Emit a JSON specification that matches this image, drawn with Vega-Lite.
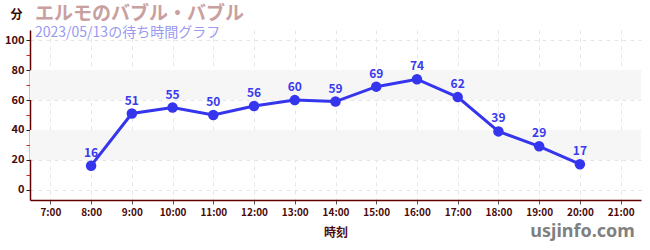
{
  "$schema": "https://vega.github.io/schema/vega-lite/v6.json",
  "width": 611,
  "height": 170,
  "autosize": {"type": "none"},
  "padding": {"left": 30, "top": 30, "right": 9, "bottom": 50},
  "background": "white",
  "config": {
    "font": "Noto Sans CJK JP",
    "view": {"stroke": null},
    "axis": {"labelOverlap": false},
    "axisY": {"labelOverlap": false},
    "axisQuantitative": {"labelOverlap": false, "tickCount": 20}
  },
  "title": {
    "text": "エルモのバブル・バブル",
    "subtitle": " 2023/05/13の待ち時間グラフ",
    "anchor": "start",
    "frame": "group",
    "dx": 5,
    "offset": -32,
    "fontSize": 19,
    "fontWeight": "bold",
    "color": "#c9a0a0",
    "subtitleFontSize": 14,
    "subtitleFontWeight": "normal",
    "subtitleColor": "#9a9af0",
    "subtitlePadding": 2
  },
  "datasets": {
    "waits": [
      {"hour": 8, "wait": 16},
      {"hour": 9, "wait": 51},
      {"hour": 10, "wait": 55},
      {"hour": 11, "wait": 50},
      {"hour": 12, "wait": 56},
      {"hour": 13, "wait": 60},
      {"hour": 14, "wait": 59},
      {"hour": 15, "wait": 69},
      {"hour": 16, "wait": 74},
      {"hour": 17, "wait": 62},
      {"hour": 18, "wait": 39},
      {"hour": 19, "wait": 29},
      {"hour": 20, "wait": 17}
    ],
    "bands": [
      {"lo": 20, "hi": 40},
      {"lo": 60, "hi": 80}
    ],
    "mark": [
      {"hour": 21.35, "wait": -28.5, "label": "usjinfo.com"}
    ]
  },
  "layer": [
    {
      "data": {"name": "bands"},
      "mark": {"type": "rect", "color": "#f6f6f6"},
      "encoding": {
        "y": {
          "field": "lo",
          "type": "quantitative",
          "scale": {"domain": [-7, 107], "nice": false, "zero": false},
          "axis": {
            "values": [0, 10, 20, 30, 40, 50, 60, 70, 80, 90, 100],
            "labelExpr": "datum.value % 20 == 0 ? datum.label : ''",
            "labelOverlap": false,
            "labelColor": "#4a0a0a",
            "labelFontSize": 11,
            "labelFontWeight": "bold",
            "labelPadding": 2,
            "tickColor": {"condition": {"test": "datum.value % 20 == 0", "value": "#222222"}, "value": "#dd2222"},
            "tickSize": 4,
            "domainColor": "#600000",
            "domainWidth": 1.5,
            "grid": true,
            "gridColor": "#e6e6e6",
            "gridDash": [4, 4],
            "gridOpacity": {"condition": {"test": "datum.value % 20 == 0", "value": 1}, "value": 0},
            "title": "分",
            "titleAngle": 0,
            "titleX": -14,
            "titleY": -16,
            "titleAlign": "center",
            "titleBaseline": "middle",
            "titleColor": "#3a0a0a",
            "titleFontSize": 12,
            "titleFontWeight": "bold"
          }
        },
        "y2": {"field": "hi"}
      }
    },
    {
      "data": {"name": "waits"},
      "mark": {"type": "line", "color": "#3535ee", "strokeWidth": 3},
      "encoding": {
        "x": {
          "field": "hour",
          "type": "quantitative",
          "scale": {"domain": [6.5, 21.5], "nice": false, "zero": false},
          "axis": {
            "values": [7, 8, 9, 10, 11, 12, 13, 14, 15, 16, 17, 18, 19, 20, 21],
            "labelExpr": "datum.value + ':00'",
            "labelColor": "#4a0a0a",
            "labelFontSize": 10,
            "labelFontWeight": "bold",
            "labelPadding": 3,
            "labelOverlap": false,
            "tickColor": "#555555",
            "tickSize": 4,
            "domainColor": "#600000",
            "domainWidth": 1.5,
            "grid": true,
            "gridColor": "#e6e6e6",
            "gridDash": [4, 4],
            "title": "時刻",
            "titleColor": "#4a0a0a",
            "titleFontSize": 12,
            "titleFontWeight": "bold",
            "titlePadding": 10
          }
        },
        "y": {"field": "wait", "type": "quantitative"}
      }
    },
    {
      "data": {"name": "waits"},
      "mark": {"type": "point", "filled": true, "color": "#3535ee", "size": 110, "opacity": 1},
      "encoding": {
        "x": {"field": "hour", "type": "quantitative"},
        "y": {"field": "wait", "type": "quantitative"}
      }
    },
    {
      "data": {"name": "waits"},
      "mark": {"type": "text", "color": "#3a3aee", "fontSize": 12, "fontWeight": "bold", "dy": -13},
      "encoding": {
        "x": {"field": "hour", "type": "quantitative"},
        "y": {"field": "wait", "type": "quantitative"},
        "text": {"field": "wait", "type": "quantitative"}
      }
    },
    {
      "data": {"name": "mark"},
      "mark": {"type": "text", "color": "#808080", "fontSize": 18, "fontWeight": "bold", "align": "right", "baseline": "middle", "font": "Noto Sans"},
      "encoding": {
        "x": {"field": "hour", "type": "quantitative"},
        "y": {"field": "wait", "type": "quantitative"},
        "text": {"field": "label"}
      }
    }
  ]
}
